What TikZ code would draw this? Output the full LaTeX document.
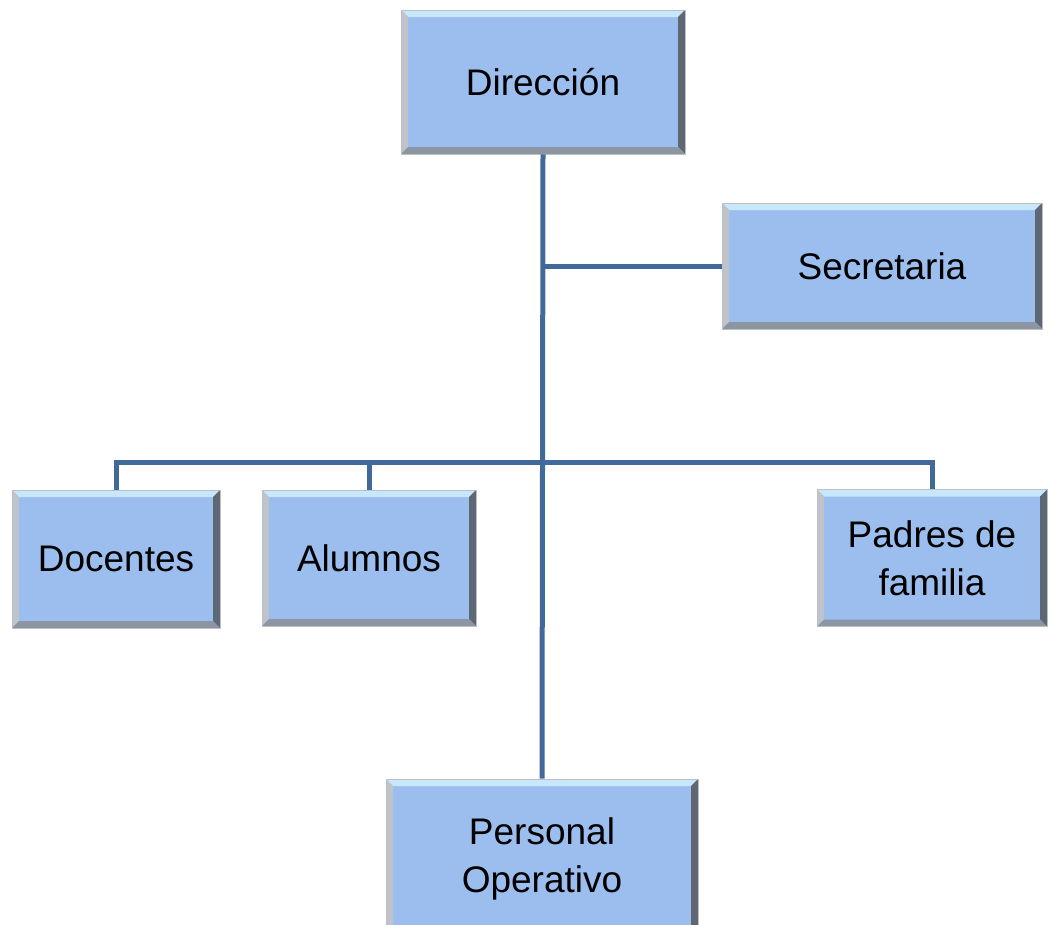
\documentclass[tikz,border=0pt]{standalone}
\usepackage{fontspec}
\setmainfont{Liberation Sans}
\definecolor{boxblue}{HTML}{9BBEEE}
\definecolor{linkblue}{HTML}{41699A}
\definecolor{bevtop}{HTML}{C8E6FC}
\definecolor{bevleft}{HTML}{BFC4CC}
\definecolor{bevright}{HTML}{5E6774}
\definecolor{bevbottom}{HTML}{8C96A3}

\begin{document}
\begin{tikzpicture}[x=1pt,y=-1pt,
    font=\fontsize{37}{48}\selectfont,
    orgbox/.style={fill=boxblue, draw=gray!50, line width=0.8pt, align=center, inner sep=0pt,
      path picture={
        \fill[bevtop] (path picture bounding box.north west) -- (path picture bounding box.north east)
          -- ([xshift=-7pt,yshift=-7pt]path picture bounding box.north east) -- ([xshift=7pt,yshift=-7pt]path picture bounding box.north west) -- cycle;
        \fill[bevleft] (path picture bounding box.north west) -- ([xshift=7pt,yshift=-7pt]path picture bounding box.north west)
          -- ([xshift=7pt,yshift=7pt]path picture bounding box.south west) -- (path picture bounding box.south west) -- cycle;
        \fill[bevright] (path picture bounding box.north east) -- ([xshift=-7pt,yshift=-7pt]path picture bounding box.north east)
          -- ([xshift=-7pt,yshift=7pt]path picture bounding box.south east) -- (path picture bounding box.south east) -- cycle;
        \fill[bevbottom] (path picture bounding box.south west) -- ([xshift=7pt,yshift=7pt]path picture bounding box.south west)
          -- ([xshift=-7pt,yshift=7pt]path picture bounding box.south east) -- (path picture bounding box.south east) -- cycle;
      }},
    link/.style={draw=linkblue, line width=5pt}
    ]
    \useasboundingbox (0,0) rectangle (1049,924);

    \node[orgbox, minimum width=284pt, minimum height=144pt] (dir) at (543,82) {Direcci\'on};
    \node[orgbox, minimum width=320pt, minimum height=126pt] (sec) at (882,266) {Secretaria};
    \node[orgbox, minimum width=208pt, minimum height=138pt] (doc) at (116,559) {Docentes};
    \node[orgbox, minimum width=214pt, minimum height=136pt] (alu) at (369,558) {Alumnos};
    \node[orgbox, minimum width=230pt, minimum height=137pt] (pad) at (932,558) {Padres de\\familia};
    \node[orgbox, minimum width=312pt, minimum height=160pt] (per) at (542,859) {Personal\\Operativo};

    \coordinate (bus) at (543,462);

    % lineas
    \begin{scope}[link]
    \draw (dir.south) -- (per.north);
    \draw (dir.south |- sec.west) -- (sec.west);
    \draw (doc.north) |- (bus) -| (pad.north);
    \draw (alu.north) -- (alu.north |- bus);
    \end{scope}
    %
\end{tikzpicture}
\end{document}
